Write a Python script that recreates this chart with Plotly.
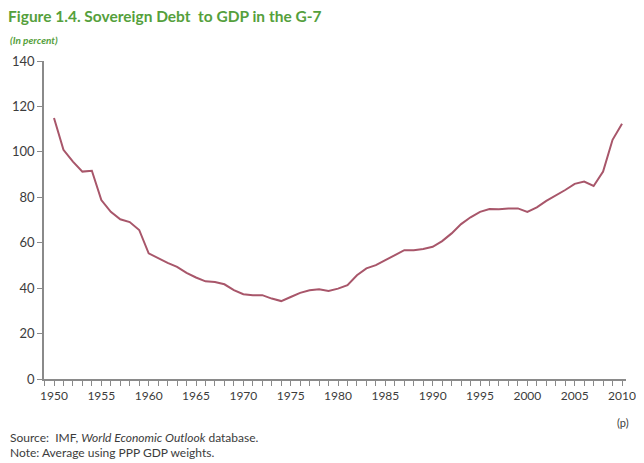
import plotly.graph_objects as go

years = list(range(1950, 2011))
debt_to_gdp = [
    114.9, 100.9, 95.7, 91.3, 91.7, 78.8, 73.6, 70.3, 69.1, 65.6,
    55.3, 53.1, 51.1, 49.4, 46.7, 44.7, 43.0, 42.7, 41.7, 39.1,
    37.3, 36.9, 36.9, 35.4, 34.3, 36.1, 37.9, 39.1, 39.5, 38.8,
    39.8, 41.3, 45.7, 48.7, 50.1, 52.3, 54.5, 56.7, 56.7, 57.2,
    58.2, 60.7, 64.1, 68.2, 71.2, 73.6, 74.8, 74.7, 75.1, 75.1,
    73.6, 75.6, 78.4, 80.7, 83.2, 85.9, 86.9, 85.0, 91.3, 105.3,
    112.4,
]
x_tick_vals = list(range(1950, 2011, 5))
x_tick_text = [str(y) for y in x_tick_vals]
y_tick_vals = [0, 20, 40, 60, 80, 100, 120, 140]

title_text = "<b>Figure 1.4. Sovereign Debt  to GDP in the G-7</b>"
subtitle_text = "<b><i>(In percent)</i></b>"
source_text = "Source:  IMF, <i>World Economic Outlook</i> database."
note_text = "Note: Average using PPP GDP weights."

FONT = "Lato, 'Open Sans', sans-serif"
GREEN = "#55a03c"
TEXT = "#3c3c3c"
AXIS = "#8a8a8a"

# page has an 8px body margin; figure sized to fill the rest of the 644x463 window
W, H = 628, 455
PL, PT, PW, PH = 36, 53, 582, 318   # plot area in figure pixels


def px(page_x):
    return (page_x - 8 - PL) / PW


def py(page_y):
    return (PT + PH - (page_y - 8)) / PH


fig = go.Figure()
fig.add_trace(go.Scatter(
    x=years, y=debt_to_gdp, mode="lines",
    line=dict(color="#a8566a", width=2),
    hoverinfo="x+y", showlegend=False,
))

fig.update_layout(
    width=W, height=H,
    margin=dict(l=PL, r=W - PL - PW, t=PT, b=H - PT - PH, autoexpand=False),
    paper_bgcolor="white", plot_bgcolor="white",
    font=dict(family=FONT, color=TEXT),
    title=dict(text=title_text, x=0.0, y=1 - 9 / H, xref="container", yref="container",
               xanchor="left", yanchor="middle",
               font=dict(family=FONT, size=15.5, color=GREEN)),
    xaxis=dict(
        range=[1948.944, 2010.42],
        tickmode="array", tickvals=x_tick_vals, ticktext=x_tick_text,
        showline=True, linecolor=AXIS, linewidth=1.5,
        ticks="outside", ticklen=5, tickcolor=AXIS,
        minor=dict(ticks="outside", dtick=1, tick0=1950, ticklen=5, tickcolor=AXIS),
        showgrid=False, zeroline=False, automargin=False,
        ticklabeloverflow="allow",
        tickfont=dict(size=12, color=TEXT),
    ),
    yaxis=dict(
        range=[0, 140],
        tickmode="array", tickvals=y_tick_vals,
        showline=True, linecolor=AXIS, linewidth=1.5,
        ticks="outside", ticklen=5, tickcolor=AXIS,
        showgrid=False, zeroline=False, automargin=False,
        tickfont=dict(size=13, color=TEXT),
    ),
    annotations=[
        dict(text=subtitle_text, xref="paper", yref="paper", x=px(8), y=py(40),
             xanchor="left", yanchor="middle", showarrow=False,
             font=dict(family=FONT, size=10, color=GREEN)),
        dict(text="(p)", xref="paper", yref="paper", x=px(623), y=py(422),
             xanchor="center", yanchor="middle", showarrow=False,
             font=dict(family=FONT, size=11, color=TEXT)),
        dict(text=source_text, xref="paper", yref="paper", x=px(8), y=py(437),
             xanchor="left", yanchor="middle", showarrow=False,
             font=dict(family=FONT, size=12, color=TEXT)),
        dict(text=note_text, xref="paper", yref="paper", x=px(8), y=py(452),
             xanchor="left", yanchor="middle", showarrow=False,
             font=dict(family=FONT, size=12, color=TEXT)),
    ],
)

fig.write_html("out.html")
